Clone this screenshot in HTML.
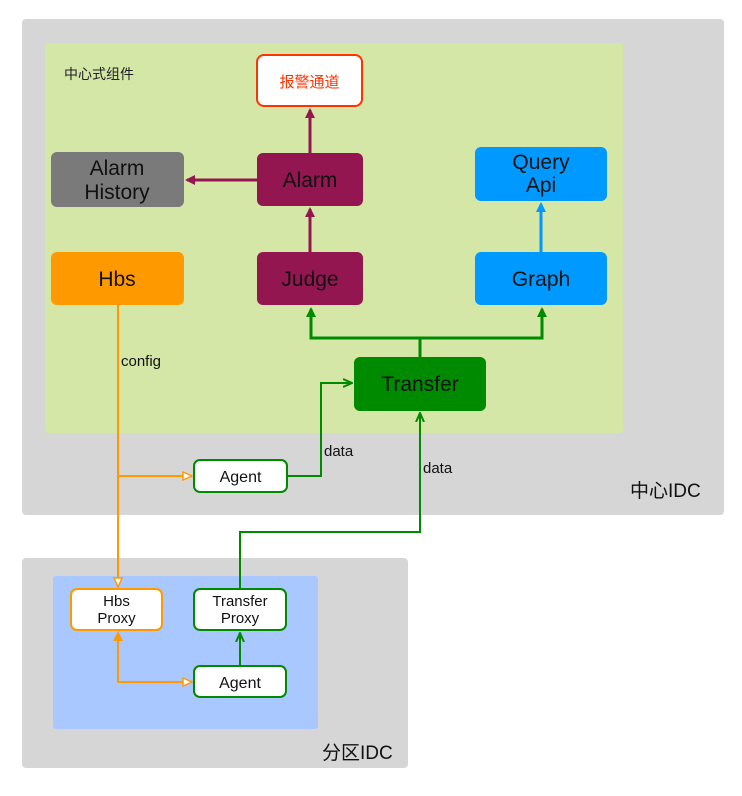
<!DOCTYPE html>
<html><head><meta charset="utf-8"><style>
body{margin:0;background:#fff}
text{font-family:"Liberation Sans","Noto Sans CJK SC",sans-serif}
</style></head><body>
<svg width="742" height="791" xmlns="http://www.w3.org/2000/svg">
<defs>
<marker id="mp" markerWidth="10" markerHeight="10" refX="8" refY="5" orient="auto" markerUnits="userSpaceOnUse"><path d="M0,0 L10,5 L0,10 Z" fill="#941650"/></marker>
<marker id="mb" markerWidth="10" markerHeight="10" refX="8" refY="5" orient="auto" markerUnits="userSpaceOnUse"><path d="M0,0 L10,5 L0,10 Z" fill="#0099ff"/></marker>
<marker id="mg" markerWidth="10" markerHeight="10" refX="8" refY="5" orient="auto" markerUnits="userSpaceOnUse"><path d="M0,0 L10,5 L0,10 Z" fill="#008a00"/></marker>
<marker id="mgo" markerWidth="10" markerHeight="10" refX="8" refY="5" orient="auto" markerUnits="userSpaceOnUse"><path d="M0,1 L9,5 L0,9" fill="none" stroke="#008a00" stroke-width="2"/></marker>
<marker id="mo" markerWidth="12" markerHeight="12" refX="10" refY="6" orient="auto" markerUnits="userSpaceOnUse"><path d="M1,2 L10,6 L1,10 Z" fill="#fff" stroke="#ff9900" stroke-width="1.5"/></marker>
<marker id="mof" markerWidth="10" markerHeight="10" refX="8" refY="5" orient="auto" markerUnits="userSpaceOnUse"><path d="M0,0 L10,5 L0,10 Z" fill="#ff9900"/></marker>
</defs>
<rect x="22" y="19" width="702" height="496" rx="4" fill="#d6d6d6"/>
<rect x="45" y="43" width="578" height="390" rx="3" fill="#d4e7a6"/>
<rect x="22" y="558" width="386" height="210" rx="4" fill="#d6d6d6"/>
<rect x="53" y="576" width="265" height="153" rx="3" fill="#a8c8ff"/>
<text x="64" y="79" font-size="14" fill="#222">中心式组件</text>
<text x="630" y="497" font-size="19" fill="#111">中心IDC</text>
<text x="322" y="759" font-size="19" fill="#111">分区IDC</text>
<!-- connectors -->
<g fill="none" stroke-width="3">
<line x1="310" y1="153" x2="310" y2="110" stroke="#941650" marker-end="url(#mp)"/>
<line x1="310" y1="252" x2="310" y2="209" stroke="#941650" marker-end="url(#mp)"/>
<line x1="257" y1="180" x2="187" y2="180" stroke="#941650" marker-end="url(#mp)"/>
<line x1="541" y1="252" x2="541" y2="204" stroke="#0099ff" marker-end="url(#mb)"/>
<path d="M420,357 V338 H311 V309" stroke="#008a00" marker-end="url(#mg)"/>
<path d="M420,338 H542 V309" stroke="#008a00" marker-end="url(#mg)"/>
</g>
<g fill="none" stroke-width="2">
<path d="M287,476 H321 V383 H351" stroke="#008a00" marker-end="url(#mgo)"/>
<path d="M240,589 V532 H420 V414" stroke="#008a00" marker-end="url(#mgo)"/>
<path d="M240,666 V634" stroke="#008a00" marker-end="url(#mgo)"/>
<path d="M118,305 V587" stroke="#ff9900" marker-end="url(#mo)"/>
<path d="M118,476 H192" stroke="#ff9900" marker-end="url(#mo)"/>
<path d="M192,682 H118 V633" stroke="#ff9900" marker-end="url(#mof)"/>
<path d="M118,682 H192" stroke="#ff9900" marker-end="url(#mo)"/>
</g>
<text x="121" y="366" font-size="15" fill="#111">config</text>
<text x="324" y="456" font-size="15" fill="#111">data</text>
<text x="423" y="473" font-size="15" fill="#111">data</text>
<!-- nodes -->
<rect x="257" y="55" width="105" height="51" rx="7" fill="#fff" stroke="#ff3300" stroke-width="2"/>
<text x="309.5" y="87" font-size="15" fill="#ff3300" text-anchor="middle">报警通道</text>
<rect x="51" y="152" width="133" height="55" rx="6" fill="#7a7a7a"/>
<text x="117" y="175" font-size="21" fill="#111" text-anchor="middle">Alarm</text>
<text x="117" y="199" font-size="21" fill="#111" text-anchor="middle">History</text>
<rect x="257" y="153" width="106" height="53" rx="6" fill="#941650"/>
<text x="310" y="187" font-size="21" fill="#111" text-anchor="middle">Alarm</text>
<rect x="475" y="147" width="132" height="54" rx="6" fill="#0099ff"/>
<text x="541" y="169" font-size="21" fill="#111" text-anchor="middle">Query</text>
<text x="541" y="192" font-size="21" fill="#111" text-anchor="middle">Api</text>
<rect x="51" y="252" width="133" height="53" rx="6" fill="#ff9900"/>
<text x="117" y="286" font-size="21" fill="#111" text-anchor="middle">Hbs</text>
<rect x="257" y="252" width="106" height="53" rx="6" fill="#941650"/>
<text x="310" y="286" font-size="21" fill="#111" text-anchor="middle">Judge</text>
<rect x="475" y="252" width="132" height="53" rx="6" fill="#0099ff"/>
<text x="541" y="286" font-size="21" fill="#111" text-anchor="middle">Graph</text>
<rect x="354" y="357" width="132" height="54" rx="6" fill="#008a00"/>
<text x="420" y="391" font-size="21" fill="#111" text-anchor="middle">Transfer</text>
<rect x="194" y="460" width="93" height="32" rx="6" fill="#fff" stroke="#008a00" stroke-width="2"/>
<text x="240.5" y="482" font-size="16" fill="#111" text-anchor="middle">Agent</text>
<rect x="71" y="589" width="91" height="41" rx="6" fill="#fff" stroke="#ff9900" stroke-width="2"/>
<text x="116.5" y="606" font-size="15" fill="#111" text-anchor="middle">Hbs</text>
<text x="116.5" y="623" font-size="15" fill="#111" text-anchor="middle">Proxy</text>
<rect x="194" y="589" width="92" height="41" rx="6" fill="#fff" stroke="#008a00" stroke-width="2"/>
<text x="240" y="606" font-size="15" fill="#111" text-anchor="middle">Transfer</text>
<text x="240" y="623" font-size="15" fill="#111" text-anchor="middle">Proxy</text>
<rect x="194" y="666" width="92" height="31" rx="6" fill="#fff" stroke="#008a00" stroke-width="2"/>
<text x="240" y="688" font-size="16" fill="#111" text-anchor="middle">Agent</text>
</svg>
</body></html>
